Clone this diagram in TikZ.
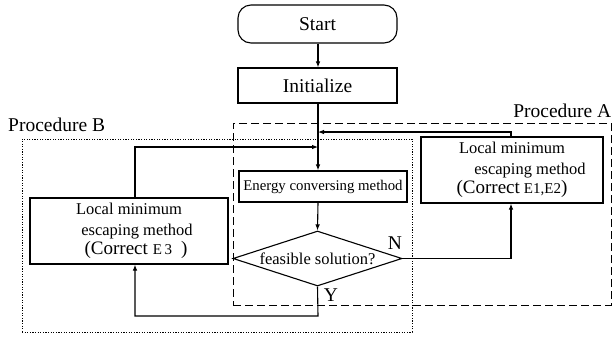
\documentclass[tikz,border=0pt]{standalone}
\usepackage{fontspec}
\setmainfont{Liberation Serif}
\usetikzlibrary{arrows.meta,shapes.geometric}

\newcommand{\bigtxt}{\fontsize{19.5}{22}\selectfont}
\newcommand{\midtxt}{\fontsize{16.5}{20.5}\selectfont}
\newcommand{\smalltxt}{\fontsize{14.8}{17}\selectfont}
\newcommand{\corrtxt}{\fontsize{19}{20.5}\selectfont}
\newcommand{\idxtxt}{\fontsize{15}{16}\selectfont}

\tikzset{
  stepbox/.style={draw, line width=1.1pt, inner sep=0pt, align=center},
  flow/.style={line width=1.1pt, -{Latex[length=6pt,width=4.6pt]}},
  frameA/.style={draw, line width=1pt, dash pattern=on 8pt off 4pt, inner sep=0pt},
  frameB/.style={draw, line width=1pt, dash pattern=on 1.2pt off 1.4pt, inner sep=0pt},
}

\begin{document}
\begin{tikzpicture}[x=1pt,y=-1pt]
\useasboundingbox[fill=white] (0,0) rectangle (612,338);

% procedure frames
\node (procA) [frameA, minimum width=378pt, minimum height=182pt] at (422,214) {};
\node (procB) [frameB, minimum width=390pt, minimum height=193pt] at (217,235.5) {};
\node (labA) [anchor=base east, inner sep=0pt, font=\bigtxt] at (611.5,117) {Procedure A};
\node (labB) [anchor=base west, inner sep=0pt, font=\bigtxt] at (8,131) {Procedure B};

% main flow
\node (start) [stepbox, rounded corners=13pt, minimum width=159pt, minimum height=38pt, font=\bigtxt] at (317.5,24) {Start};
\node (init) [stepbox, minimum width=159pt, minimum height=35pt, font=\bigtxt] at (317.5,85.5) {Initialize};
\node (energy) [stepbox, minimum width=168pt, minimum height=31pt, font=\smalltxt] at (323,186.5) {Energy conversing method};
\node (dia) [draw, line width=1.1pt, diamond, inner sep=0pt, minimum width=169pt, minimum height=55pt,
  label={[font=\midtxt]center:feasible solution?}] at (317.5,258.5) {};

% escaping boxes
\node (bbox) [stepbox, minimum width=198pt, minimum height=66pt, font=\midtxt] at (129,231)
  {Local minimum\\\hspace*{16pt}escaping method\\[-1pt]
   \hspace*{14pt}{\corrtxt(Correct\hspace{5pt}{\idxtxt E\,3}\hspace{9pt})}};
\node (abox) [stepbox, minimum width=182pt, minimum height=66pt, font=\midtxt] at (512,170)
  {Local minimum\\\hspace*{36pt}escaping method\\[-1pt]
   {\corrtxt(Correct\hspace{4pt}{\idxtxt E1,E2})}};

% branch labels
\node (lN) [font=\bigtxt, inner sep=0pt] at (395,243) {N};
\node (lY) [font=\bigtxt, inner sep=0pt] at (331,295) {Y};

% bend points
\coordinate (bUp) at (135,147);
\coordinate (aUp) at (511,132);
\coordinate (yLow) at (318,316);

% connectors
\draw[flow] (start.south -| yLow) -- (init.north -| yLow);
\draw[flow] (init.south -| yLow) -- (energy.north -| yLow);
\draw[flow] (energy.south -| yLow) -- (dia.north);
\draw[flow] (bbox.north -| bUp) -- (bUp) -- (bUp -| yLow);
\draw[flow] (abox.north -| aUp) -- (aUp) -- (aUp -| yLow);
\draw[flow] (dia.east) -| (abox.south -| aUp);
\draw[flow] (dia.south) -- (yLow) -| (bbox.south -| bUp);
\end{tikzpicture}
\end{document}
